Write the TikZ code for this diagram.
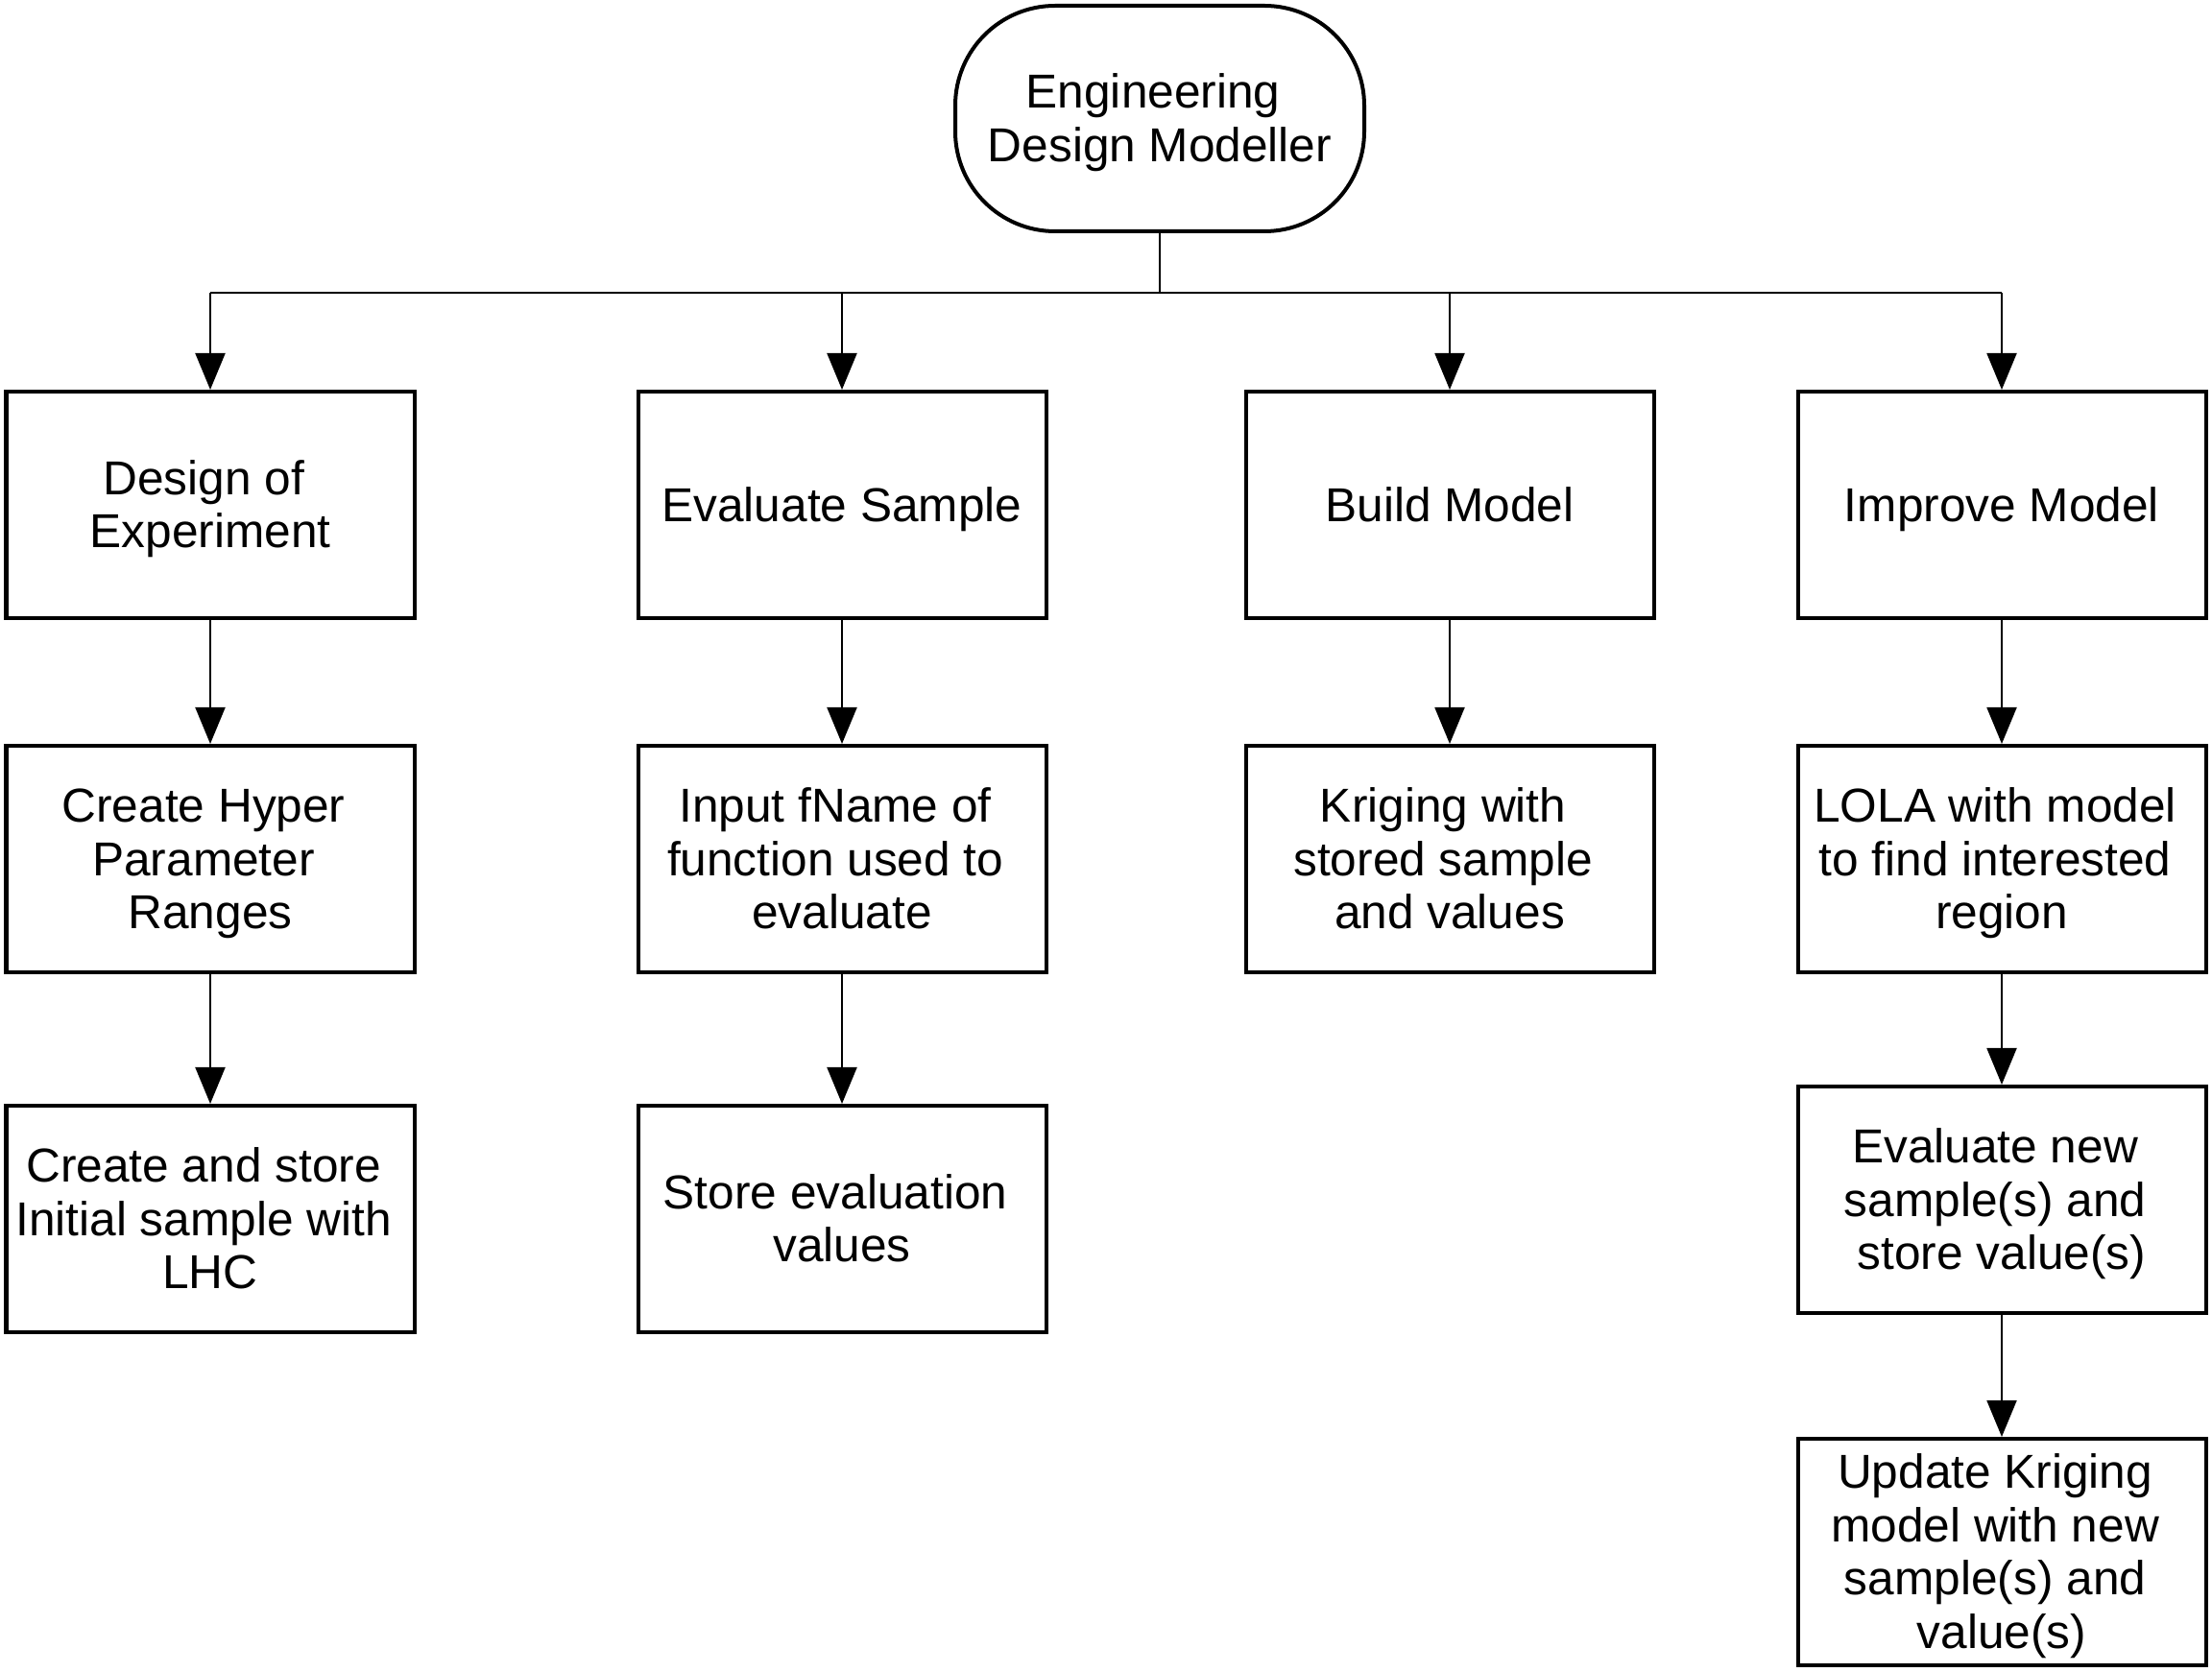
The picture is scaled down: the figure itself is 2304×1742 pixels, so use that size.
\documentclass[tikz,border=0pt]{standalone}
\usepackage{fontspec}
\setmainfont{Liberation Sans}
\usetikzlibrary{arrows.meta}
% text block whose extent runs from the cap top of the first line to the baseline of the last
\newcommand\ctext[2]{\raisebox{0pt}[\dimexpr #1\baselineskip+\fontcharht\font`H\relax][0pt]{\begin{tabular}[b]{@{}c@{}}#2\end{tabular}}}
\newcommand\tsp{\hphantom{\ }}
\begin{document}
\begin{tikzpicture}[x=0.25pt,y=-0.25pt,
  every node/.style={font=\fontsize{12.4pt}{13.95pt}\selectfont},
  procbox/.style={draw, line width=1pt, minimum width=106.25pt, minimum height=59pt,
    inner sep=0pt},
  termbox/.style={draw, line width=1pt, minimum width=106.5pt, minimum height=58.75pt,
    rounded corners=26pt, inner sep=0pt},
  conn/.style={line width=0.5pt},
  arr/.style={conn, -{Triangle[length=9.5pt,width=7.75pt]}}]
\useasboundingbox (0,0) rectangle (2304,1742);
\fill[white] (0,0) rectangle (2304,1742);

\node[termbox] (term) at (1208,123.5) {\ctext{1}{Engineering\tsp\\Design Modeller}};

\node[procbox] (b11) at (219,526) {\ctext{1}{Design of\tsp\\Experiment}};
\node[procbox] (b21) at (877,526) {\ctext{0}{Evaluate Sample}};
\node[procbox] (b31) at (1510,526) {\ctext{0}{Build Model}};
\node[procbox] (b41) at (2085,526) {\ctext{0}{Improve Model}};

\node[procbox] (b12) at (219,895) {\ctext{2}{Create Hyper\tsp\\Parameter\tsp\\Ranges}};
\node[procbox] (b22) at (877,895) {\ctext{2}{Input fName of\tsp\\function used to\tsp\\evaluate}};
\node[procbox] (b32) at (1510,895) {\ctext{2}{Kriging with\tsp\\stored sample\tsp\\and values}};
\node[procbox] (b42) at (2085,895) {\ctext{2}{LOLA with model\tsp\\to find interested\tsp\\region}};

\node[procbox] (b13) at (219,1270) {\ctext{2}{Create and store\tsp\\Initial sample with\tsp\\LHC}};
\node[procbox] (b23) at (877,1270) {\ctext{1}{Store evaluation\tsp\\values}};
\node[procbox] (b43) at (2085,1250) {\ctext{2}{Evaluate new\tsp\\sample(s) and\tsp\\store value(s)}};
\node[procbox] (b44) at (2085,1617) {\ctext{3}{Update Kriging\tsp\\model with new\tsp\\sample(s) and\tsp\\value(s)}};

\coordinate (j)  at (1208,305);
\coordinate (j1) at (219,305);
\coordinate (j2) at (877,305);
\coordinate (j3) at (1510,305);
\coordinate (j4) at (2085,305);

\draw[conn] (term.south) -- (j);
\draw[conn] (j1) -- (j4);
\draw[arr] (j1) -- (b11.north);
\draw[arr] (j2) -- (b21.north);
\draw[arr] (j3) -- (b31.north);
\draw[arr] (j4) -- (b41.north);

\draw[arr] (b11.south) -- (b12.north);
\draw[arr] (b12.south) -- (b13.north);
\draw[arr] (b21.south) -- (b22.north);
\draw[arr] (b22.south) -- (b23.north);
\draw[arr] (b31.south) -- (b32.north);
\draw[arr] (b41.south) -- (b42.north);
\draw[arr] (b42.south) -- (b43.north);
\draw[arr] (b43.south) -- (b44.north);
\end{tikzpicture}
\end{document}
